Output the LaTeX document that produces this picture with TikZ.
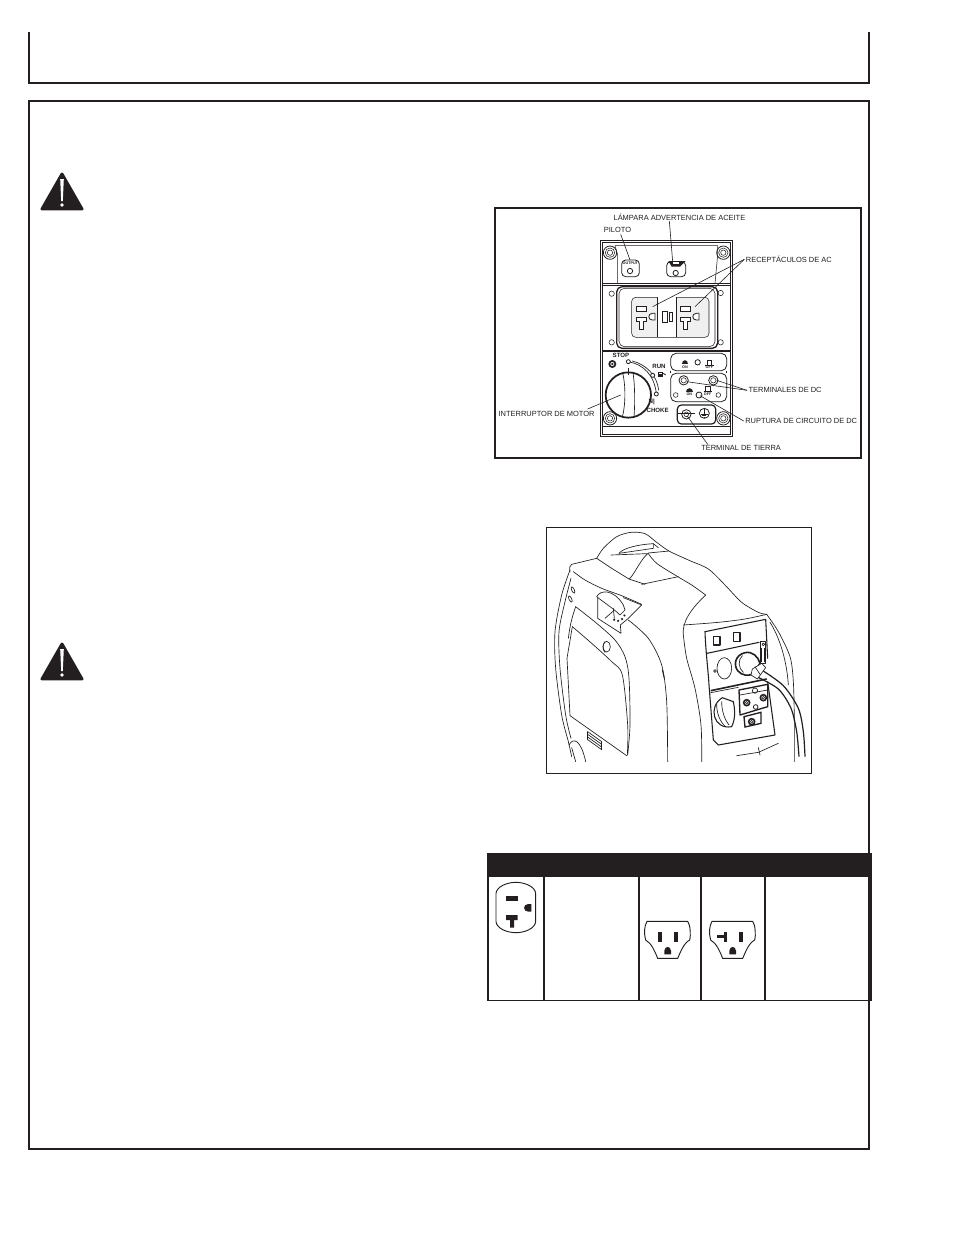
\documentclass[tikz,border=0pt]{standalone}
\usepackage{fontspec}
\setmainfont{Liberation Sans}
\definecolor{ink}{HTML}{231F20}
\tikzset{
 lbl/.style={font=\fontsize{5.6}{6}\selectfont,inner sep=0pt,text=ink},
 bl/.style={font=\fontsize{4.6}{5}\selectfont\bfseries,inner sep=0pt,text=ink},
 tinyl/.style={font=\fontsize{2.8}{3}\selectfont\bfseries,inner sep=0pt,text=ink},
 frame/.style={draw=ink,line width=1.5pt},
 pl/.style={draw=ink,line width=.6pt},
 thn/.style={draw=ink,line width=.4pt},
 gl/.style={draw=ink,line width=.5pt,line cap=round,line join=round},
 lead/.style={draw=ink,line width=.45pt},
 zoom/.style={x=.25pt,y=-.25pt},
 tb/.style={draw=ink,line width=1.3pt}
}
\begin{document}
\begin{tikzpicture}[x=.75pt,y=-.75pt]
\useasboundingbox (0,0) rectangle (954,1235);
\fill[white] (0,0) rectangle (954,1235);
% page frames
\draw[frame] (29,32) -- (29,83) -- (869,83) -- (869,32);
\draw[frame] (29,101) rectangle (869,1149);
% warning triangles
\foreach \yy in {0,470}{
\begin{scope}[shift={(0,\yy)}]
\fill[ink,draw=ink,line width=2.2pt,line join=round] (62,174) -- (82,209) -- (42,209) -- cycle;
\fill[white] (60.2,179) -- (63.8,179) -- (62.8,201) -- (61.2,201) -- cycle;
\fill[white] (62,205) circle (1.9);
\end{scope}}
% ---------- control panel
\draw[draw=ink,line width=1.1pt] (495,208) rectangle (861,458);
\begin{scope}[shift={(495,205)},zoom]
\draw[pl] (315,105) rectangle (712,695);
\draw[pl] (322,112) rectangle (705,688);
\draw[pl] (322,236) -- (705,236); \draw[pl] (322,242) -- (705,242);
\draw[pl,line width=.8pt] (322,438) -- (705,438);
\draw[pl] (322,665) -- (705,665);
\draw[thn] (368,235) -- (368,150) -- (360,122) -- (668,122) -- (668,150) -- (660,235);
\foreach \a/\b in {345/143,685/143,345/640,685/640}{
 \draw[pl] (\a,\b) circle (20); \draw[thn] (\a,\b) circle (14); \draw[thn] (\a,\b) circle (8);}
\draw[pl,rounded corners=3pt] (380,165) rectangle (433,215);
\draw[pl] (405,198) circle (8);
\node[tinyl] (outp) at (406,174) {OUTPUT};
\draw[pl,rounded corners=3pt] (515,170) rectangle (572,215);
\draw[pl] (542,204) circle (8);
\fill[ink] (520,168) -- (572,168) -- (555,185) -- (530,185) -- cycle;
\fill[white] (533,172) rectangle (552,178);
\draw[pl,rounded corners=4pt,line width=1pt] (365,245) rectangle (668,430);
\draw[thn,rounded corners=4pt] (372,250) rectangle (660,425);
\foreach \a/\b in {350/266,677/264,350/412,677/412}{\draw[thn] (\a,\b) circle (8);}
\fill[black!6,rounded corners=3pt] (410,277) rectangle (642,397);
\draw[thn,rounded corners=3pt] (410,277) rectangle (642,397);
\fill[white] (487,277) rectangle (543,397);
\draw[pl] (487,277) -- (487,397); \draw[pl] (543,277) -- (543,397);
\foreach \d in {0,132}{
\begin{scope}[xshift=\d*.25pt]
\draw[pl,fill=white] (423,305) rectangle (453,318);
\draw[pl,fill=white] (423,338) -- (453,338) -- (453,348) -- (444,348) -- (444,373) -- (432,373) -- (432,348) -- (423,348) -- cycle;
\draw[pl,fill=white] (480,325) -- (480,345) -- (472,345) .. controls (458,345) and (458,325) .. (472,325) -- cycle;
\end{scope}}
\draw[pl,fill=white] (503,318) rectangle (518,353);
\draw[pl,fill=white] (523,323) rectangle (533,350);
% dial
\draw[draw=ink,line width=1.3pt] (400,570) circle (68);
\draw[gl] (383,503) .. controls (392,540) and (392,600) .. (382,636);
\draw[gl] (414,503) .. controls (420,540) and (420,600) .. (417,636);
\draw[draw=ink,line width=1.2pt] (400,490) -- (400,510);
\draw[gl] (400,470) .. controls (445,478) and (478,510) .. (484,566);
\draw[gl] (412,468) .. controls (452,478) and (486,510) .. (491,555);
\foreach \a/\b in {400/470,473/511,484/567}{\draw[pl,fill=white] (\a,\b) circle (6);}
\fill[ink] (352,477) circle (12); \fill[white] (352,477) circle (6); \fill[ink] (352,477) circle (3.5);
\node[bl] (stop) at (378,452) {STOP};
\node[bl] (run) at (492,485) {RUN};
\fill[ink] (488,500) rectangle (503,517); \fill[white] (491,503) rectangle (500,508);
\draw[pl] (505,505) -- (512,510);
\node[bl] (nn) at (470,590) {N|};
\node[bl] (choke) at (488,615) {CHOKE};
% DC
\draw[pl,rounded corners=4pt] (527,445) rectangle (695,497);
\draw[pl,rounded corners=4pt] (527,505) rectangle (695,590);
\draw[thn] (527,497) -- (527,505); \draw[thn] (695,497) -- (695,505);
\draw[pl] (608,472) circle (8);
\fill[ink] (560,478) .. controls (560,463) and (580,463) .. (580,478) -- cycle;
\node[tinyl] (on1) at (570,487) {ON};
\draw[pl] (636,465) rectangle (650,480); \draw[pl] (630,480) -- (656,480);
\node[tinyl] (off1) at (643,488) {OFF};
\draw[pl] (566,526) circle (14); \draw[thn] (566,526) circle (8);
\draw[pl] (655,526) circle (14); \draw[thn] (655,526) circle (8);
\draw[thn] (542,570) circle (7); \draw[thn] (670,570) circle (7);
\draw[pl] (612,570) circle (9);
\fill[ink] (573,560) .. controls (573,545) and (593,545) .. (593,560) -- cycle;
\node[tinyl] (on2) at (583,568) {ON};
\draw[pl] (632,545) rectangle (646,560); \draw[pl] (626,560) -- (652,560);
\node[tinyl] (off2) at (638,568) {OFF};
\draw[pl,rounded corners=3pt,line width=.9pt] (547,600) rectangle (662,657);
\draw[pl] (574,628) circle (14); \draw[thn] (574,628) circle (7);
\draw[pl] (545,625) -- (600,625);
\draw[pl] (628,625) circle (15);
\draw[pl] (628,612) -- (628,627); \draw[pl] (618,627) -- (638,627); \draw[pl] (622,632) -- (634,632); \draw[pl] (626,637) -- (630,637);
% labels and leaders
\node[lbl,anchor=west] (lampara) at (355,37) {LÁMPARA ADVERTENCIA DE ACEITE};
\node[lbl,anchor=west] (piloto) at (326,74) {PILOTO};
\node[lbl,anchor=west] (recep) at (752,163) {RECEPTÁCULOS DE AC};
\node[lbl,anchor=west] (termdc) at (760,556) {TERMINALES DE DC};
\node[lbl,anchor=west] (ruptura) at (750,648) {RUPTURA DE CIRCUITO DE DC};
\node[lbl,anchor=west] (tierra) at (618,730) {TERMINAL DE TIERRA};
\node[lbl,anchor=west] (motor) at (10,628) {INTERRUPTOR DE MOTOR};
\coordinate (pPil) at (405,165);
\coordinate (pLam) at (533,170);
\coordinate (pRa) at (473,305);
\coordinate (pRb) at (600,305);
\coordinate (pDa) at (575,530);
\coordinate (pDb) at (665,526);
\coordinate (pRu) at (615,572);
\coordinate (pTi) at (576,632);
\coordinate (pMo) at (377,570);
\draw[lead] (377,88) -- (pPil);
\draw[lead] (523,48) -- (pLam);
\draw[lead] (748,163) -- (pRa);
\draw[lead] (748,163) -- (pRb);
\draw[lead] (756,556) -- (pDa);
\draw[lead] (756,556) -- (pDb);
\draw[lead] (746,648) -- (pRu);
\draw[lead] (638,718) -- (pTi);
\draw[lead] (278,612) -- (pMo);
\end{scope}
% ---------- generator
\draw[draw=ink,line width=.6pt] (546,527) rectangle (811,773);
\begin{scope}[shift={(545,525)},zoom]
% top of body and handle
\draw[gl,smooth] plot coordinates {(155,100) (175,70) (215,35) (258,22) (300,26) (335,52) (372,78) (430,105) (490,132) (540,180) (590,232) (640,262) (665,268)};
\draw[gl] (80,118) -- (155,100);
\draw[gl] (75,140) .. controls (72,128) and (75,120) .. (80,118);
\draw[gl] (155,100) -- (200,130) -- (252,162) .. controls (268,150) and (285,105) .. (310,84) -- (372,78);
\draw[gl] (222,85) .. controls (235,68) and (285,58) .. (325,56) -- (340,68);
\draw[gl] (222,85) -- (325,70) -- (325,56);
\draw[gl] (198,90) -- (305,86);
\draw[gl] (290,178) -- (400,155);
\draw[gl,smooth] plot coordinates {(310,86) (335,115) (390,150) (440,180) (482,210)};
\draw[gl,smooth] plot coordinates {(85,140) (120,165) (170,190) (230,212) (290,238)};
\draw[gl] (252,162) -- (300,178);
\draw[gl] (482,210) .. controls (440,250) and (410,290) .. (415,330);
% left side
\draw[gl,smooth] plot coordinates {(75,135) (50,210) (30,320) (32,430) (50,570) (70,650) (80,695)};
\draw[gl,smooth] plot coordinates {(78,160) (60,230) (42,320) (45,430) (62,570) (78,640)};
\draw[gl,rotate around={25:(84,195)}] (84,195) ellipse (4 and 10);
\draw[gl,rotate around={25:(76,222)}] (76,222) ellipse (4 and 10);
% side panel
\draw[gl,smooth] plot coordinates {(92,245) (155,295) (210,345) (240,395) (252,460) (255,600) (248,690)};
\draw[gl] (92,245) .. controls (80,280) and (75,300) .. (70,340);
\draw[gl,smooth] plot coordinates {(82,305) (140,355) (200,410) (232,450) (248,600) (247,690)};
\draw[gl] (82,305) -- (66,400) -- (75,572) -- (245,692);
\draw[gl] (185,365) ellipse (11 and 16);
\draw[gl] (180,350) .. controls (172,360) and (172,372) .. (180,382);
% vent
\foreach \k in {0,8,16,24}{\draw[gl] (128,620+\k) -- (170,650+\k);}
\draw[gl] (128,620) -- (128,644); \draw[gl] (170,650) -- (170,674);
\draw[gl] (72,660) .. controls (85,635) and (108,645) .. (122,710);
\draw[gl] (80,668) -- (92,710);
% fuel cap
\draw[gl] (155,215) .. controls (165,195) and (205,190) .. (235,240) -- (240,255) -- (225,270) .. controls (205,250) and (180,235) .. (155,215) -- cycle;
\draw[gl] (158,218) -- (158,280) -- (228,325) -- (226,300);
\draw[gl] (180,280) -- (205,258);
\draw[gl] (205,250) -- (208,280);
\draw[gl] (235,218) -- (290,240) -- (250,280) -- (226,300);
\draw[draw=ink,line width=1.3pt,dotted] (205,283) .. controls (220,295) and (235,285) .. (240,268);
% middle body line
\draw[gl,smooth] plot coordinates {(250,285) (310,340) (350,420) (365,530) (368,710)};
\draw[draw=ink,line width=.7pt] (352,435) -- (358,460);
% right panel surround
\draw[gl,smooth] plot coordinates {(415,300) (520,292) (600,282) (665,268)};
\draw[gl,smooth] plot coordinates {(665,268) (700,320) (735,395) (745,470) (748,590) (748,710)};
\draw[gl,smooth] plot coordinates {(415,330) (425,400) (450,490) (468,600) (470,710)};
\draw[gl,line width=.8pt] (480,320) -- (662,283) -- (668,400);
\draw[gl,line width=.8pt] (480,320) .. controls (482,380) and (490,440) .. (492,480) -- (505,645) -- (520,660) -- (690,630) -- (668,470);
\draw[gl] (675,292) .. controls (700,330) and (725,400) .. (730,480);
\draw[gl,line width=.8pt] (486,385) -- (642,352);
\draw[gl,line width=.8pt] (505,335) rectangle (525,360);
\draw[gl,line width=.8pt] (565,322) rectangle (585,350);
\draw[gl] (645,350) rectangle (662,415);
\draw[gl] (655,358) circle (4);
\draw[gl] (650,370) -- (650,410); \draw[gl] (657,370) -- (657,410);
\draw[draw=ink,line width=1.2pt] (497,497) -- (665,462);
\draw[gl] (497,503) -- (580,487);
\draw[gl] (538,430) ellipse (22 and 32);
\draw[gl] (510,438) circle (4);
% plug
\draw[gl,line width=1.2pt] (600,383) .. controls (570,390) and (565,420) .. (578,437) .. controls (590,452) and (612,455) .. (625,445) -- (645,415) .. controls (640,395) and (622,378) .. (600,383) -- cycle;
\draw[gl] (592,392) .. controls (578,405) and (580,430) .. (595,442);
% cable
\draw[draw=ink,line width=.9pt,smooth] plot coordinates {(635,455) (700,492) (738,550) (755,620) (762,695)};
\draw[draw=ink,line width=.9pt,smooth] plot coordinates {(650,435) (715,482) (760,550) (775,620) (780,695)};
\draw[gl,fill=white] (622,432) -- (650,415) -- (662,428) -- (637,462) -- (618,450) -- cycle;
\draw[gl] (630,425) -- (645,448);
% control knob
\draw[gl,line width=.8pt] (560,605) .. controls (505,615) and (488,545) .. (532,518) -- (565,530) .. controls (570,555) and (572,580) .. (560,605);
\draw[gl] (515,538) .. controls (515,565) and (525,590) .. (540,603);
\draw[gl] (530,530) .. controls (530,560) and (540,585) .. (552,600);
% DC box
\draw[gl,line width=1pt] (582,495) -- (668,478) -- (668,545) -- (585,570) -- cycle;
\draw[gl] (585,510) -- (668,495);
\draw[gl] (630,497) circle (8);
\draw[draw=ink,line width=1.2pt] (605,533) circle (9);
\draw[thn] (605,533) circle (4);
\draw[draw=ink,line width=1.2pt] (655,518) circle (9);
\draw[thn] (655,518) circle (4);
\draw[pl] (632,546) circle (7);
\draw[draw=ink,line width=1pt] (597,575) -- (648,562) -- (648,595) -- (600,606) -- cycle;
\draw[draw=ink,line width=1.2pt] (620,590) circle (9);
\draw[thn] (620,590) circle (4);
\draw[gl] (575,692) -- (640,682) -- (700,655);
\draw[gl] (640,668) -- (645,690);
\end{scope}
% ---------- table
\fill[ink] (487,853) rectangle (872,877);
\draw[tb] (488,877) -- (488,1001);
\draw[tb] (487.4,1000.5) -- (870,1000.5);
\foreach \xx in {544,639,701,765}{\draw[tb] (\xx,877) -- (\xx,1001);}
\draw[draw=ink,line width=2.2pt] (870.5,877) -- (870.5,1001);
\begin{scope}[shift={(485,850)},zoom]
% 30A receptacle
\draw[draw=ink,line width=.7pt] (33,130) .. controls (35,110) and (65,97) .. (93,97) .. controls (120,97) and (150,110) .. (152,130) -- (152,215) .. controls (150,235) and (120,248) .. (93,248) .. controls (65,248) and (35,235) .. (33,215) -- cycle;
\fill[ink] (63,138) rectangle (98,152);
\fill[ink] (63,195) -- (98,195) -- (98,210) -- (87,210) -- (87,233) -- (75,233) -- (75,210) -- (63,210) -- cycle;
\fill[ink] (139,162) -- (139,185) -- (130,185) .. controls (113,185) and (113,162) .. (130,162) -- cycle;
% 15A / 20A
\foreach \d in {0,195}{
\begin{scope}[xshift=\d*.25pt]
\draw[draw=ink,line width=.7pt] (486,214) -- (608,214) .. controls (616,225) and (618,255) .. (614,270) .. controls (595,280) and (585,310) .. (578,325) -- (518,325) .. controls (510,305) and (500,280) .. (482,270) .. controls (476,250) and (478,228) .. (486,214) -- cycle;
\fill[ink] (538,313) -- (558,313) -- (558,302) .. controls (556,287) and (540,287) .. (538,302) -- cycle;
\end{scope}}
\fill[ink] (519,245) rectangle (532,276);
\fill[ink] (567,245) rectangle (579,276);
\fill[ink] (717,245) rectangle (727,276);
\fill[ink] (697,255) rectangle (717,265);
\fill[ink] (762,245) rectangle (774,276);
\end{scope}
\end{tikzpicture}
\end{document}
